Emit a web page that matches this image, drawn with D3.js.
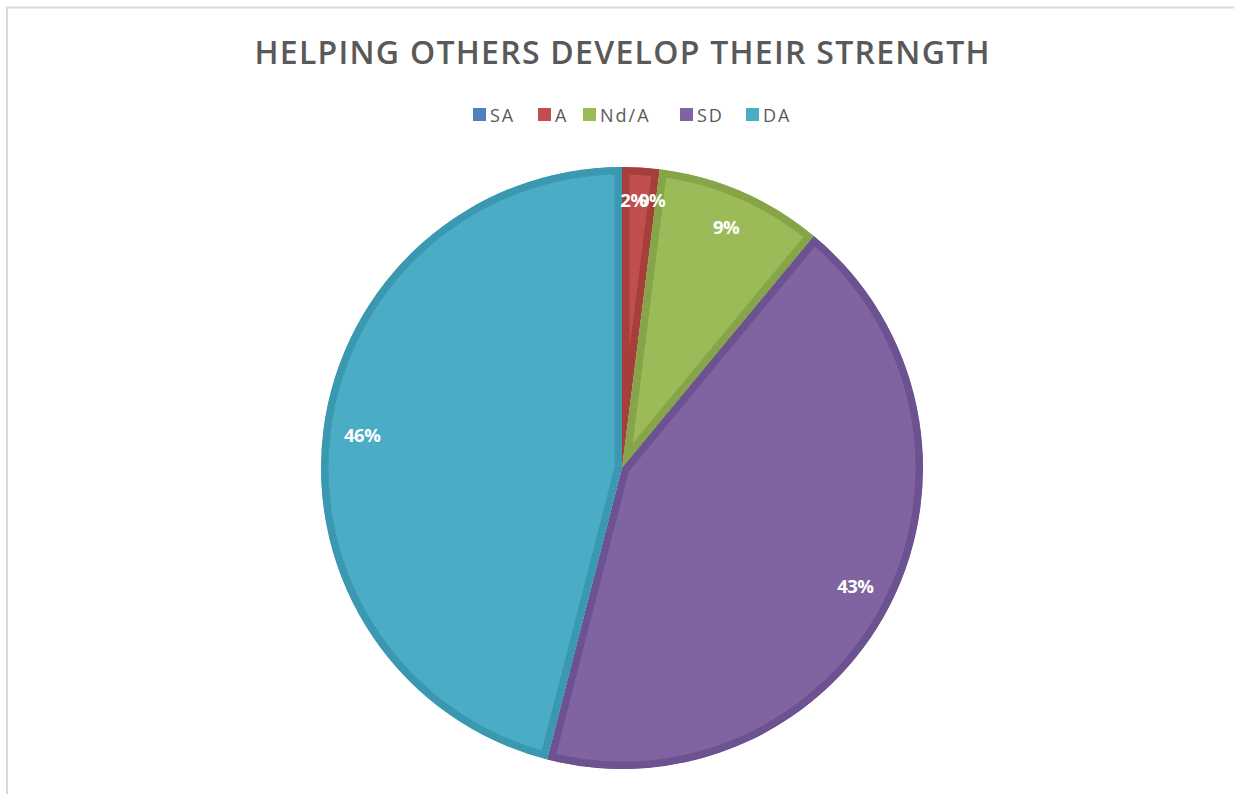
<!DOCTYPE html>
<html>
<head>
<meta charset="utf-8">
<script src="https://cdn.jsdelivr.net/npm/d3@7"></script>
<style>
  html, body { margin: 0; padding: 0; background: #ffffff; }
  svg { display: block; }
</style>
</head>
<body>
<svg id="chart" width="1234" height="794"></svg>
<script>
// ---- data ----
const title = "HELPING OTHERS DEVELOP THEIR STRENGTH";
const categories = ["SA", "A", "Nd/A", "SD", "DA"];
const values = [0, 2, 9, 43, 46];
const labels = ["0%", "2%", "9%", "43%", "46%"];
const fillColors = ["#4F81BD", "#C0504D", "#9BBB59", "#8064A2", "#4BACC6"];
const borderColors = ["#3d6aa0", "#a63f3c", "#86a548", "#6c5290", "#3b98b1"];

// ---- layout ----
const W = 1234, H = 794;
const cx = 622, cy = 468, R = 301;
const svg = d3.select("#chart");

// outer frame
svg.append("rect")
  .attr("x", 7).attr("y", 7.5)
  .attr("width", W + 10).attr("height", H + 10)
  .attr("fill", "none").attr("stroke", "#d9d9d9").attr("stroke-width", 2);

// title
const titleText = svg.append("text")
  .attr("x", cx).attr("y", 64)
  .attr("text-anchor", "middle")
  .attr("font-family", "'Open Sans', sans-serif")
  .attr("font-weight", 600)
  .attr("font-size", 32)
  .attr("fill", "#595959")
  .text(title);
// fit title to reference width (~735px)
(function fit() {
  const target = 735;
  const n = title.length;
  const w = titleText.node().getComputedTextLength();
  const ls = (target - w) / (n - 1);
  titleText.attr("letter-spacing", ls.toFixed(2));
  titleText.attr("x", cx + ls / 2);
})();

// legend
const legendX = [473, 538, 583, 680, 746];
const legend = svg.append("g");
categories.forEach((c, i) => {
  legend.append("rect")
    .attr("x", legendX[i]).attr("y", 108)
    .attr("width", 13).attr("height", 13)
    .attr("fill", fillColors[i]);
  legend.append("text")
    .attr("x", legendX[i] + 17).attr("y", 121.5)
    .attr("font-family", "'Open Sans', sans-serif")
    .attr("font-size", 18)
    .attr("letter-spacing", 2)
    .attr("fill", "#595959")
    .text(c);
});

// pie
const pie = d3.pie().sort(null).value(d => d.v);
const arcs = pie(categories.map((c, i) => ({ c, v: values[i], i })));
const arc = d3.arc().innerRadius(0).outerRadius(R);

const g = svg.append("g").attr("transform", `translate(${cx},${cy})`);
const defs = svg.append("defs");

arcs.forEach((a, k) => {
  const id = "clip" + k;
  defs.append("clipPath").attr("id", id)
    .append("path").attr("d", arc(a));
  g.append("path")
    .attr("d", arc(a))
    .attr("fill", fillColors[a.data.i])
    .attr("stroke", borderColors[a.data.i])
    .attr("stroke-width", a.data.v > 0 ? 15 : 0)
    .attr("stroke-linejoin", "round")
    .attr("clip-path", `url(#${id})`);
});

// data labels
const labelArc = d3.arc().innerRadius(R * 0.87).outerRadius(R * 0.87);
const nudge = { 0: [30, -6], 1: [-5, -6] };
arcs.forEach((a, k) => {
  const [x, y] = labelArc.centroid(a);
  const n = nudge[k] || [0, 0];
  g.append("text")
    .attr("x", x + n[0]).attr("y", y + n[1])
    .attr("dy", "0.35em")
    .attr("text-anchor", "middle")
    .attr("font-family", "'Open Sans', sans-serif")
    .attr("font-weight", 700)
    .attr("font-size", 18.5)
    .attr("letter-spacing", -0.5)
    .attr("fill", "#ffffff")
    .text(labels[k]);
});
</script>
</body>
</html>
